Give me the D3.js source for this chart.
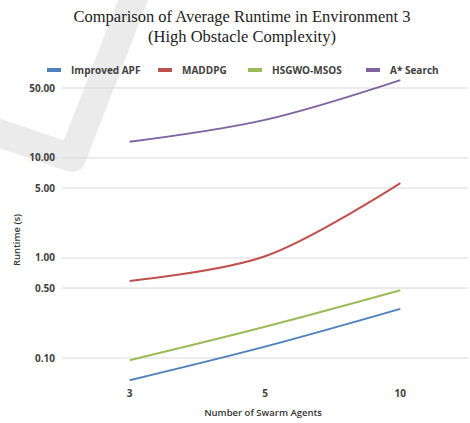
<!DOCTYPE html>
<html>
<head>
<meta charset="utf-8">
<script src="https://cdn.jsdelivr.net/npm/d3@7"></script>
<style>
  body { margin: 0; background: #fff; }
  svg { display: block; }
</style>
</head>
<body>
<div id="chart"></div>
<script>
// data
const agents = ["3", "5", "10"];
const seriesNames = ["Improved APF", "MADDPG", "HSGWO-MSOS", "A* Search"];
const improvedApf = [0.06, 0.13, 0.31];
const maddpg = [0.59, 1.04, 5.6];
const hsgwoMsos = [0.095, 0.205, 0.475];
const aStar = [14.5, 24, 60];
const yTicks = [0.1, 0.5, 1, 5, 10, 50];
const colors = ["#4F81BD", "#C0504D", "#9BBB59", "#8064A2"];

const width = 470, height = 423;
const margin = { left: 62, right: 2 };

const svg = d3.select("#chart").append("svg")
  .attr("width", width)
  .attr("height", height);

// faint check-mark watermark behind the chart
svg.append("path")
  .attr("d", d3.line()([[-10, 130], [72, 158], [137, -10]]))
  .attr("fill", "none")
  .attr("stroke", "#ebebeb")
  .attr("stroke-width", 28)
  .attr("stroke-linejoin", "round");

const x = d3.scalePoint()
  .domain(agents)
  .range([margin.left, width - margin.right])
  .padding(0.5);

const y = d3.scaleLog()
  .domain([0.1, 50])
  .range([358, 88]);

// gridlines
svg.append("g")
  .selectAll("line")
  .data(yTicks)
  .join("line")
  .attr("x1", margin.left)
  .attr("x2", width - margin.right)
  .attr("y1", d => y(d))
  .attr("y2", d => y(d))
  .attr("stroke", "#d9d9d9")
  .attr("stroke-width", 1);

// y tick labels
svg.append("g")
  .style("font", "bold 10px 'Open Sans', sans-serif")
  .attr("fill", "#404040")
  .attr("text-anchor", "end")
  .selectAll("text")
  .data(yTicks)
  .join("text")
  .attr("x", 55)
  .attr("y", d => y(d))
  .attr("dy", "0.35em")
  .text(d => d3.format(".2f")(d));

// x tick labels
svg.append("g")
  .style("font", "bold 10px 'Open Sans', sans-serif")
  .attr("fill", "#404040")
  .attr("text-anchor", "middle")
  .selectAll("text")
  .data(agents)
  .join("text")
  .attr("x", d => x(d))
  .attr("y", 397)
  .text(d => d);

// axis titles
svg.append("text")
  .attr("x", 263)
  .attr("y", 416)
  .attr("text-anchor", "middle")
  .style("font", "600 9.5px 'Open Sans', sans-serif")
  .attr("fill", "#333")
  .text("Number of Swarm Agents");

svg.append("text")
  .attr("transform", "translate(20,240) rotate(-90)")
  .attr("text-anchor", "middle")
  .style("font", "600 9.5px 'Open Sans', sans-serif")
  .attr("fill", "#333")
  .text("Runtime (s)");

// title
const title = svg.append("text")
  .attr("text-anchor", "middle")
  .style("font", "16.5px 'Liberation Serif', serif")
  .attr("fill", "#222");
title.append("tspan").attr("x", 242).attr("y", 22).text("Comparison of Average Runtime in Environment 3");
title.append("tspan").attr("x", 242).attr("y", 42).text("(High Obstacle Complexity)");

// lines
const allSeries = [improvedApf, maddpg, hsgwoMsos, aStar];
const line = d3.line()
  .x((d, i) => x(agents[i]))
  .y(d => y(d))
  .curve(d3.curveCatmullRom.alpha(0.5));

svg.append("g")
  .selectAll("path")
  .data(allSeries)
  .join("path")
  .attr("d", line)
  .attr("fill", "none")
  .attr("stroke", (d, i) => colors[i])
  .attr("stroke-width", 2);

// legend
const legendX = [47, 158, 248, 366];
const legend = svg.append("g")
  .selectAll("g")
  .data(seriesNames)
  .join("g")
  .attr("transform", (d, i) => `translate(${legendX[i]},70)`);

legend.append("rect")
  .attr("x", 0)
  .attr("y", -2)
  .attr("width", 14)
  .attr("height", 4)
  .attr("fill", (d, i) => colors[i]);

legend.append("text")
  .attr("x", 24)
  .attr("dy", "0.35em")
  .style("font", "bold 10px 'Open Sans', sans-serif")
  .attr("fill", "#404040")
  .text(d => d);
</script>
</body>
</html>
